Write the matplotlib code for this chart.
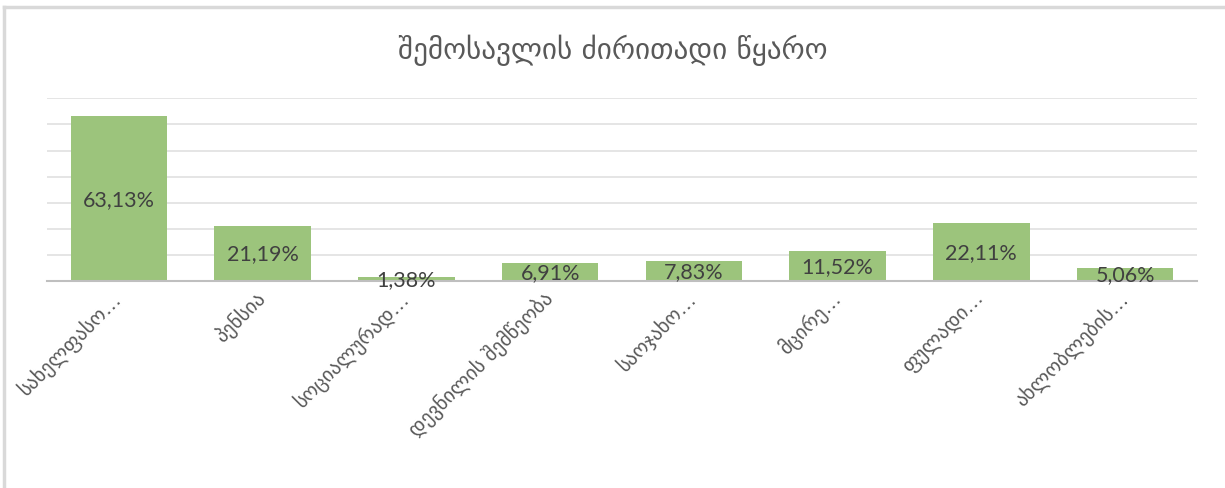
import matplotlib
matplotlib.use("Agg")
import matplotlib.pyplot as plt
from matplotlib.lines import Line2D

title = "შემოსავლის ძირითადი წყარო"
categories = ["სახელფასო…", "პენსია", "სოციალურად…", "დევნილის შემწეობა",
              "საოჯახო…", "მცირე…", "ფულადი…", "ახლობლების…"]
values = [63.13, 21.19, 1.38, 6.91, 7.83, 11.52, 22.11, 5.06]
value_labels = ["63,13%", "21,19%", "1,38%", "6,91%", "7,83%", "11,52%", "22,11%", "5,06%"]

W, H = 1225, 489
fig = plt.figure(figsize=(W / 100, H / 100), dpi=100)
fig.patch.set_facecolor("white")

# chart border (top and left visible)
fig.add_artist(Line2D([3.5 / W, 3.5 / W], [0, 1 - 7.5 / H], transform=fig.transFigure,
                      color="#d9d9d9", lw=2.5))
fig.add_artist(Line2D([3.5 / W, 1], [1 - 7.5 / H, 1 - 7.5 / H], transform=fig.transFigure,
                      color="#d9d9d9", lw=2.5))

left, right = 47 / W, 1197 / W
bottom, top = (H - 282) / H, (H - 99.3) / H
ax = fig.add_axes([left, bottom, right - left, top - bottom])

x = list(range(len(categories)))
bars = ax.bar(x, values, width=0.67, color="#9cc47c", zorder=3)
ax.set_xlim(-0.5, len(categories) - 0.5)
ax.set_ylim(0, 70)
ax.set_yticks(range(0, 71, 10))
ax.yaxis.grid(True, color="#e3e3e3", lw=1.3, zorder=0)
ax.tick_params(axis="y", left=False, labelleft=False)
ax.tick_params(axis="x", length=0, pad=10)
for s in ["top", "right", "left"]:
    ax.spines[s].set_visible(False)
ax.spines["bottom"].set_color("#bfbfbf")
ax.spines["bottom"].set_linewidth(1.5)
ax.spines["bottom"].set_zorder(4)

ax.set_xticks(x)
ax.set_xticklabels(categories, rotation=45, ha="right", va="center",
                   rotation_mode="anchor",
                   fontsize=14.5, color="#595959", family=["DejaVu Sans"])

for xi, v, lab in zip(x, values, value_labels):
    ax.text(xi, v / 2, lab, ha="center", va="center", fontsize=15.5,
            color="#404040", family=["Lato", "DejaVu Sans"], zorder=5)

fig.text(0.5, (H - 50) / H, title, ha="center", va="center", fontsize=21,
         color="#595959", family=["DejaVu Sans"])

fig.savefig("out.png", dpi=100)
